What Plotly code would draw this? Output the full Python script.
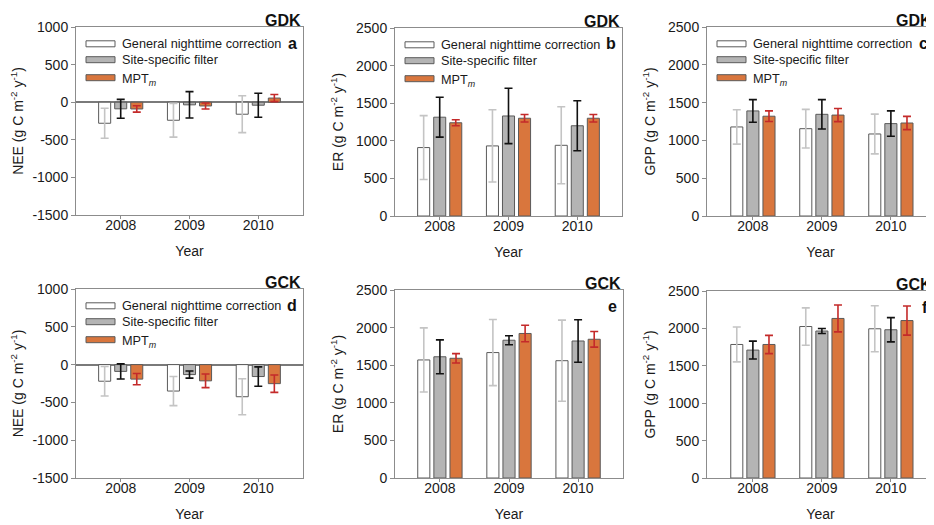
import plotly.graph_objects as go

years = ["2008", "2009", "2010"]
series_names = ["General nighttime correction", "Site-specific filter", "MPT<sub><i>m</i></sub>"]

# Panel a: NEE, GDK
nee_gdk_general = [-280, -240, -160]
nee_gdk_general_err = [200, 225, 245]
nee_gdk_site = [-88, -35, -40]
nee_gdk_site_err = [125, 175, 160]
nee_gdk_mpt = [-90, -50, 55]
nee_gdk_mpt_err = [42, 40, 47]

# Panel b: ER, GDK
er_gdk_general = [910, 932, 940]
er_gdk_general_err = [425, 480, 512]
er_gdk_site = [1314, 1330, 1200]
er_gdk_site_err = [265, 368, 332]
er_gdk_mpt = [1240, 1300, 1300]
er_gdk_mpt_err = [40, 50, 50]

# Panel c: GPP, GDK
gpp_gdk_general = [1178, 1155, 1085]
gpp_gdk_general_err = [227, 255, 263]
gpp_gdk_site = [1390, 1345, 1222]
gpp_gdk_site_err = [150, 195, 168]
gpp_gdk_mpt = [1320, 1335, 1230]
gpp_gdk_mpt_err = [70, 86, 88]

# Panel d: NEE, GCK
nee_gck_general = [-220, -350, -425]
nee_gck_general_err = [195, 192, 238]
nee_gck_site = [-90, -132, -158]
nee_gck_site_err = [100, 47, 128]
nee_gck_mpt = [-192, -215, -252]
nee_gck_mpt_err = [75, 90, 115]

# Panel e: ER, GCK
er_gck_general = [1570, 1668, 1560]
er_gck_general_err = [427, 440, 540]
er_gck_site = [1612, 1832, 1822]
er_gck_site_err = [225, 60, 282]
er_gck_mpt = [1592, 1922, 1845]
er_gck_mpt_err = [62, 110, 104]

# Panel f: GPP, GCK
gpp_gck_general = [1785, 2025, 1995]
gpp_gck_general_err = [233, 250, 307]
gpp_gck_site = [1710, 1965, 1982]
gpp_gck_site_err = [120, 33, 162]
gpp_gck_mpt = [1785, 2133, 2105]
gpp_gck_mpt_err = [122, 180, 195]

nee_ticks = [-1500, -1000, -500, 0, 500, 1000]
nee_tick_labels = ["-1500", "-1000", "-500", "0", "500", "1000"]
flux_ticks = [0, 500, 1000, 1500, 2000, 2500]
flux_tick_labels = ["0", "500", "1000", "1500", "2000", "2500"]

fills = ["#ffffff", "#b4b4b4", "#d9763d"]
err_colors = ["#c4c4c4", "#111111", "#c42a2a"]
outline = "#5a5a5a"
FONT = "Liberation Sans, Arial, sans-serif"

# page body has an 8px margin, so figure coords = window coords - 8
OFF = 8

panels = [
    dict(vals=[nee_gdk_general, nee_gdk_site, nee_gdk_mpt],
         errs=[nee_gdk_general_err, nee_gdk_site_err, nee_gdk_mpt_err],
         ytitle="NEE", site="GDK", letter="a", yr=[-1500, 1000],
         ticks=nee_ticks, ticklabels=nee_tick_labels, legend=True,
         dx=[76, 303], dy=[27, 215], xr=[-0.65, 2.65]),
    dict(vals=[er_gdk_general, er_gdk_site, er_gdk_mpt],
         errs=[er_gdk_general_err, er_gdk_site_err, er_gdk_mpt_err],
         ytitle="ER", site="GDK", letter="b", yr=[0, 2500],
         ticks=flux_ticks, ticklabels=flux_tick_labels, legend=True,
         dx=[395, 622], dy=[28, 216], xr=[-0.65, 2.65]),
    dict(vals=[gpp_gdk_general, gpp_gdk_site, gpp_gdk_mpt],
         errs=[gpp_gdk_general_err, gpp_gdk_site_err, gpp_gdk_mpt_err],
         ytitle="GPP", site="GDK", letter="c", yr=[0, 2500],
         ticks=flux_ticks, ticklabels=flux_tick_labels, legend=True,
         dx=[707, 934], dy=[27, 216], xr=[-0.665, 2.625]),
    dict(vals=[nee_gck_general, nee_gck_site, nee_gck_mpt],
         errs=[nee_gck_general_err, nee_gck_site_err, nee_gck_mpt_err],
         ytitle="NEE", site="GCK", letter="d", yr=[-1500, 1000],
         ticks=nee_ticks, ticklabels=nee_tick_labels, legend=True,
         dx=[76, 303], dy=[289, 478], xr=[-0.65, 2.65]),
    dict(vals=[er_gck_general, er_gck_site, er_gck_mpt],
         errs=[er_gck_general_err, er_gck_site_err, er_gck_mpt_err],
         ytitle="ER", site="GCK", letter="e", yr=[0, 2500],
         ticks=flux_ticks, ticklabels=flux_tick_labels, legend=False,
         dx=[395, 623], dy=[290, 478], xr=[-0.65, 2.65]),
    dict(vals=[gpp_gck_general, gpp_gck_site, gpp_gck_mpt],
         errs=[gpp_gck_general_err, gpp_gck_site_err, gpp_gck_mpt_err],
         ytitle="GPP", site="GCK", letter="f", yr=[0, 2500],
         ticks=flux_ticks, ticklabels=flux_tick_labels, legend=False,
         dx=[707, 934], dy=[291, 478], xr=[-0.665, 2.625]),
]

W, H = 934 - OFF, 525 - OFF
fig = go.Figure()
shapes = []
annotations = []
layout = {}

for i, p in enumerate(panels):
    n = i + 1
    xa = "x" if n == 1 else f"x{n}"
    ya = "y" if n == 1 else f"y{n}"
    for k in range(3):
        fig.add_trace(go.Bar(
            x=years, y=p["vals"][k], name=series_names[k], showlegend=False,
            xaxis=xa, yaxis=ya,
            marker=dict(color=fills[k], line=dict(color=outline, width=1)),
            error_y=dict(type="data", array=p["errs"][k], color=err_colors[k],
                         thickness=1.6, width=4),
        ))
    x0p, x1p = p["dx"][0] - OFF, p["dx"][1] - OFF
    y0p, y1p = p["dy"][0] - OFF, p["dy"][1] - OFF
    xd = [x0p / W, min(x1p / W, 1.0)]
    yd = [1 - y1p / H, 1 - y0p / H]
    axis_common = dict(showline=True, mirror=True, linecolor="#8c8c8c", linewidth=1,
                       ticks="outside", tickcolor="#8c8c8c", showgrid=False,
                       automargin=False,
                       tickfont=dict(family=FONT, size=14, color="#1a1a1a"))
    layout["xaxis" if n == 1 else f"xaxis{n}"] = dict(
        axis_common, domain=xd, anchor=ya, type="category", range=p["xr"],
        ticklen=3, ticklabelstandoff=-6,
        title=dict(text="Year", font=dict(family=FONT, size=14, color="#1a1a1a"), standoff=14),
    )
    is_nee = p["yr"][0] < 0
    layout["yaxis" if n == 1 else f"yaxis{n}"] = dict(
        axis_common, domain=yd, anchor=xa, range=p["yr"], ticklen=4,
        tickmode="array", tickvals=p["ticks"], ticktext=p["ticklabels"],
        zeroline=is_nee, zerolinecolor="#7a7a7a", zerolinewidth=1.5,
        title=dict(text=p["ytitle"] + " (g C m<sup>-2</sup> y<sup>-1</sup>)",
                   font=dict(family=FONT, size=14, color="#1a1a1a"), standoff=9),
    )
    xr_ = f"{xa} domain"
    yr_ = f"{ya} domain"
    annotations.append(dict(text="<b>" + p["site"] + "</b>", xref=xr_, yref=yr_, x=1, y=1,
                            xanchor="right", yanchor="bottom", showarrow=False, yshift=-4,
                            font=dict(family=FONT, size=16, color="#111111")))
    annotations.append(dict(text="<b>" + p["letter"] + "</b>", xref=xr_, yref=yr_, x=1, y=1,
                            xanchor="right", yanchor="middle", showarrow=False,
                            xshift=-4, yshift=-16,
                            font=dict(family=FONT, size=16, color="#111111")))
    if p["legend"]:
        pw = x1p - x0p
        ph = y1p - y0p
        rows = [16.8, 32.7, 50.7]
        for k in range(3):
            yc = 1 - rows[k] / ph
            hh = 3.0 / ph
            shapes.append(dict(type="rect", xref=xr_, yref=yr_,
                               x0=10 / pw, x1=39 / pw, y0=yc - hh, y1=yc + hh,
                               fillcolor=fills[k], line=dict(color=outline, width=1)))
            annotations.append(dict(text=series_names[k], xref=xr_, yref=yr_,
                                    x=44 / pw, y=yc, xanchor="left", yanchor="middle",
                                    showarrow=False, yshift=(-2 if k == 2 else 0),
                                    font=dict(family=FONT, size=12.7, color="#1a1a1a")))

fig.update_layout(
    width=W, height=H, margin=dict(l=0, r=0, t=0, b=0, autoexpand=False),
    paper_bgcolor="white", plot_bgcolor="white",
    barmode="group", bargap=0.3, bargroupgap=0.25,
    shapes=shapes, annotations=annotations, showlegend=False,
    **layout,
)
fig.write_html("out.html")
